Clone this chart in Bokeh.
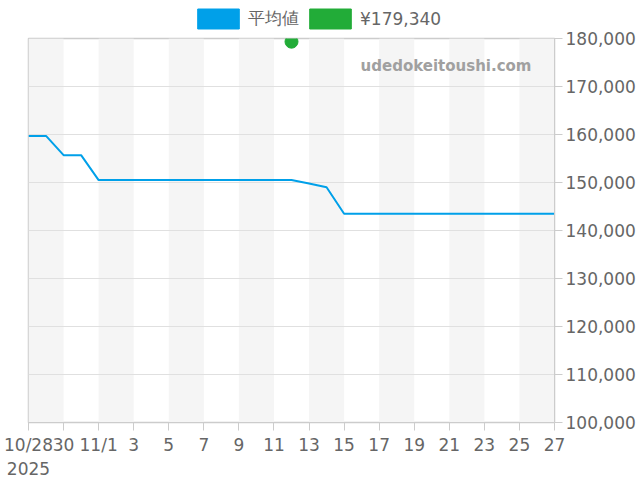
import pandas as pd
from bokeh.plotting import figure
from bokeh.layouts import column
from bokeh.models import (FixedTicker, NumeralTickFormatter, LinearAxis, Legend,
                          LegendItem, Label, Range1d, ColumnDataSource)
from bokeh.embed import file_html
from bokeh.resources import INLINE

# ---- data ----
dates = ["2025-10-28", "2025-10-29", "2025-10-30", "2025-10-31", "2025-11-01",
         "2025-11-02", "2025-11-03", "2025-11-04", "2025-11-05", "2025-11-06",
         "2025-11-07", "2025-11-08", "2025-11-09", "2025-11-10", "2025-11-11",
         "2025-11-12", "2025-11-13", "2025-11-14", "2025-11-15", "2025-11-16",
         "2025-11-17", "2025-11-18", "2025-11-19", "2025-11-20", "2025-11-21",
         "2025-11-22", "2025-11-23", "2025-11-24", "2025-11-25", "2025-11-26",
         "2025-11-27"]
avg_price = [159700, 159700, 155700, 155700, 150500,
             150500, 150500, 150500, 150500, 150500,
             150500, 150500, 150500, 150500, 150500,
             150500, 149800, 149000, 143500, 143500,
             143500, 143500, 143500, 143500, 143500,
             143500, 143500, 143500, 143500, 143500,
             143500]
point_date = ["2025-11-12"]
point_price = [179340]
series_names = ["平均値", "¥179,340"]
tick_labels = ["10/28\n2025", "30", "11/1", "3", "5", "7", "9", "11", "13", "15",
               "17", "19", "21", "23", "25", "27"]
y_ticks = [100000, 110000, 120000, 130000, 140000, 150000, 160000, 170000, 180000]

start = pd.Timestamp(dates[0])
xd = [(pd.Timestamp(d) - start).days for d in dates]
xp = [(pd.Timestamp(d) - start).days for d in point_date]
n_days = xd[-1]

BLUE = "#00a0e9"
GREEN = "#22ac38"
TXT = "#666666"

# ---- legend strip ----
lf = figure(width=640, height=30, output_backend="svg", toolbar_location=None,
            x_range=Range1d(0, 1), y_range=Range1d(0, 1),
            x_axis_location=None, y_axis_location=None,
            min_border_left=0, min_border_right=0, min_border_top=0,
            min_border_bottom=0)
lf.outline_line_color = None
lf.xgrid.visible = False
lf.ygrid.visible = False
# legend swatch proxies, kept outside the visible range
src_proxy = ColumnDataSource(dict(l=[-10], r=[-9], b=[-10], t=[-9]))
r1 = lf.quad(left="l", right="r", bottom="b", top="t", source=src_proxy,
             fill_color=BLUE, line_color=BLUE)
r2 = lf.quad(left="l", right="r", bottom="b", top="t", source=src_proxy,
             fill_color=GREEN, line_color=GREEN)
legend = Legend(items=[LegendItem(label=series_names[0], renderers=[r1]),
                       LegendItem(label=series_names[1], renderers=[r2])],
                orientation="horizontal", location=(164, -1),
                glyph_width=52, glyph_height=25, label_standoff=4, spacing=5,
                padding=0, margin=0, border_line_color=None,
                background_fill_alpha=0,
                label_text_font="DejaVu Sans", label_text_font_size="17px",
                label_text_color=TXT, label_height=25)
lf.add_layout(legend, "center")

# ---- main chart ----
p = figure(frame_width=526, frame_height=384,
           output_backend="svg", toolbar_location=None,
           x_range=Range1d(0, n_days), y_range=Range1d(100000, 180000),
           y_axis_location=None, min_border_left=28, min_border_right=86,
           min_border_top=8, min_border_bottom=56)
p.background_fill_color = "white"
p.outline_line_color = "#cccccc"
p.outline_line_width = 1.5

# alternating bands
band_left = [x for x in range(0, n_days, 4)]
band_right = [x + 2 for x in band_left]
p.quad(left=band_left, right=band_right, bottom=100000, top=180000,
       fill_color="#f5f5f5", line_color=None, level="underlay")

# grid
p.xgrid.visible = False
p.ygrid.ticker = FixedTicker(ticks=y_ticks)
p.ygrid.grid_line_color = "#e0e0e0"

# x axis
xa = p.xaxis[0]
xa.ticker = FixedTicker(ticks=list(range(0, n_days + 1, 2)))
xa.major_label_overrides = {t: lab for t, lab in zip(range(0, n_days + 1, 2), tick_labels)}
xa.axis_line_color = "#cccccc"
xa.major_tick_line_color = "#cccccc"
xa.major_tick_out = 8
xa.major_tick_in = 0
xa.minor_tick_line_color = None
xa.major_label_text_font = "DejaVu Sans"
xa.major_label_text_font_size = "17px"
xa.major_label_text_color = TXT
xa.major_label_standoff = 4

# right y axis
ya = LinearAxis(ticker=FixedTicker(ticks=y_ticks),
                formatter=NumeralTickFormatter(format="0,0"))
ya.axis_line_color = "#cccccc"
ya.major_tick_line_color = "#cccccc"
ya.major_tick_out = 8
ya.major_tick_in = 0
ya.minor_tick_line_color = None
ya.major_label_text_font = "DejaVu Sans"
ya.major_label_text_font_size = "17px"
ya.major_label_text_color = TXT
ya.major_label_standoff = 3
p.add_layout(ya, "right")

# series
p.line(xd, avg_price, line_color=BLUE, line_width=2)
p.scatter(xp, point_price, size=13, fill_color=GREEN, line_color=GREEN)

# watermark
wm = Label(x=503, y=357, x_units="screen", y_units="screen",
           text="udedokeitoushi.com", text_font="DejaVu Sans",
           text_font_style="bold", text_font_size="15px", text_color="#a0a0a0",
           text_align="right", text_baseline="middle")
p.add_layout(wm)

layout = column(lf, p, spacing=0)
open("out.html", "w").write(file_html(layout, INLINE))
